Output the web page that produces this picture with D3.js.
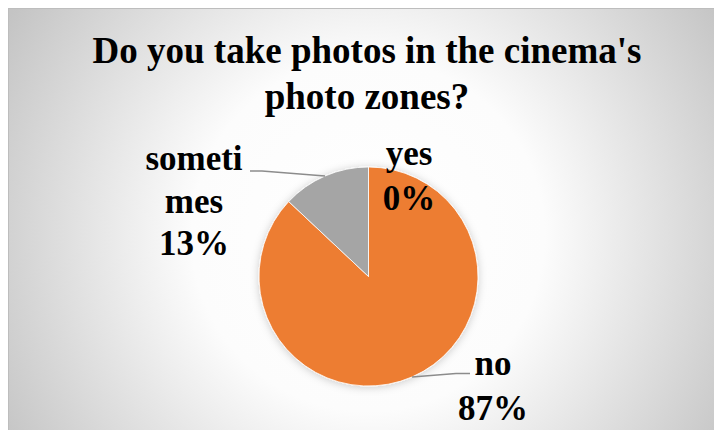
<!DOCTYPE html>
<html>
<head>
<meta charset="utf-8">
<script src="https://cdn.jsdelivr.net/npm/d3@7/dist/d3.min.js"></script>
<style>
  html, body { margin: 0; padding: 0; background: #fff; }
  svg { display: block; }
</style>
</head>
<body>
<svg id="chart" width="714" height="430"></svg>
<script>
// Survey answers, in the order the slices are laid out (clockwise from 12 o'clock)
const categories = ["yes", "no", "sometimes"];
const shares = [0, 87, 13];               // percent of respondents
const labelLines = [["yes", "0%"], ["no", "87%"], ["someti", "mes", "13%"]];
const titleLines = ["Do you take photos in the cinema's", "photo zones?"];
const colors = ["#4472C4", "#ED7D31", "#A5A5A5"];

const W = 714, H = 430;
const svg = d3.select("#chart");
const defs = svg.append("defs");

// Radial backdrop of the chart area
const grad = defs.append("radialGradient")
  .attr("id", "bg").attr("gradientUnits", "userSpaceOnUse")
  .attr("cx", 368).attr("cy", 235).attr("r", 420);
grad.append("stop").attr("offset", 0).attr("stop-color", "#ffffff");
grad.append("stop").attr("offset", 0.42).attr("stop-color", "#fcfcfc");
grad.append("stop").attr("offset", 1).attr("stop-color", "#c4c4c4");

const shadow = defs.append("filter").attr("id", "pieShadow")
  .attr("x", "-20%").attr("y", "-20%").attr("width", "140%").attr("height", "140%");
shadow.append("feDropShadow").attr("dx", 0).attr("dy", 1).attr("stdDeviation", 4)
  .attr("flood-color", "#000").attr("flood-opacity", 0.2);

// Chart area
svg.append("rect").attr("x", 8.5).attr("y", 8.5).attr("width", W).attr("height", H)
  .attr("fill", "url(#bg)").attr("stroke", "#bdbdbd").attr("stroke-width", 1);

// Title
const font = "'Liberation Serif','Times New Roman',serif";
svg.append("text")
  .attr("text-anchor", "middle")
  .attr("font-family", font).attr("font-weight", "bold").attr("font-size", 37)
  .attr("fill", "#000")
  .selectAll("tspan").data(titleLines).join("tspan")
  .attr("x", 367).attr("y", (d, i) => 63 + i * 46)
  .text(d => d);

// Pie
const cx = 368.5, cy = 276.5, R = 109.5;
const pie = d3.pie().sort(null).value(d => d.v);
const data = categories.map((c, i) => ({ c, v: shares[i], i }));
const arcs = pie(data);
const arc = d3.arc().innerRadius(0).outerRadius(R);

const g = svg.append("g").attr("transform", `translate(${cx},${cy})`);
g.append("g").attr("filter", "url(#pieShadow)")
  .selectAll("path").data(arcs.filter(a => a.data.v > 0)).join("path")
  .attr("d", arc)
  .attr("fill", a => colors[a.data.i])
  .attr("stroke", "#ffffff").attr("stroke-width", 0.8);

// Data labels, placed beside the pie
const labelPos = {
  yes: { x: 409, y: 165, lead: null },
  no: { x: 493, y: 375, lead: [470, 373.5] },
  sometimes: { x: 194, y: 170, lead: [250, 171] }
};

arcs.forEach(a => {
  const p = labelPos[a.data.c];
  if (p.lead) {
    const mid = (a.startAngle + a.endAngle) / 2;
    const sx = cx + R * Math.sin(mid), sy = cy - R * Math.cos(mid);
    const ex = p.lead[0], ey = p.lead[1];
    const bend = ex > sx ? ex - 14 : ex + 12;
    svg.append("path")
      .attr("d", d3.line()([[sx, sy], [bend, ey], [ex, ey]]))
      .attr("fill", "none").attr("stroke", "#8c8c8c").attr("stroke-width", 1.3);
  }
  svg.append("text")
    .attr("text-anchor", "middle")
    .attr("font-family", font).attr("font-weight", "bold").attr("font-size", 35)
    .attr("fill", "#000")
    .selectAll("tspan").data(labelLines[a.data.i]).join("tspan")
    .attr("x", p.x).attr("y", (d, i) => p.y + i * (a.data.c === "sometimes" ? 42.5 : 45))
    .text(d => d);
});
</script>
</body>
</html>
